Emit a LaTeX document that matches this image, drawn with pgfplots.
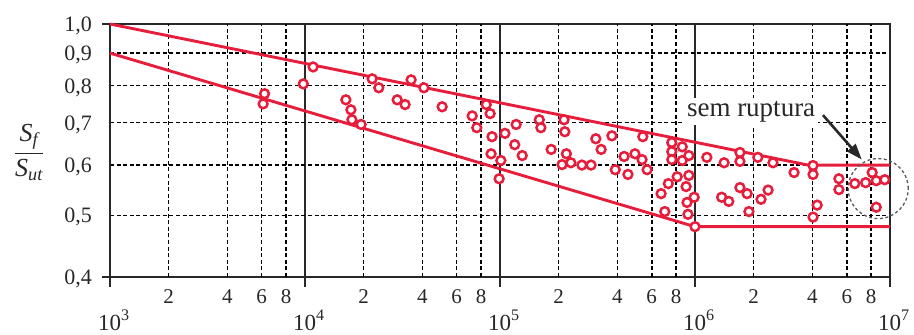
\documentclass[border=0pt]{standalone}
\usepackage{amsmath}
\usepackage{pgfplots}
\pgfplotsset{compat=1.18}
\usepackage{fontspec}
\setmainfont{Liberation Serif}
\usetikzlibrary{arrows.meta}
\definecolor{dred}{RGB}{230,30,60}
\definecolor{axgray}{RGB}{40,40,40}
\newcommand{\dec}[1]{\raisebox{-27pt}{\fontsize{23}{23}\selectfont\hspace{8pt}10\textsuperscript{#1}}}
\begin{document}
\begin{tikzpicture}
\begin{axis}[
  scale only axis, width=780pt, height=253pt,
  xmode=log, ymode=log,
  xmin=1e3, xmax=1e7, ymin=0.4, ymax=1.0,
  clip=false,
  xminorticks=false, yminorticks=false,
  axis line style={axgray, line width=2pt},
  major tick length=0pt,
  xtick={1e3,1e4,1e5,1e6,1e7},
  xticklabels={\dec{3},\dec{4},\dec{5},\dec{6},\dec{7}},
  xmajorgrids=true,
  major grid style={axgray, line width=1.6pt},
  extra x ticks={2e3,4e3,6e3,8e3,2e4,4e4,6e4,8e4,2e5,4e5,6e5,8e5,2e6,4e6,6e6,8e6},
  extra x tick labels={2,4,6,8,2,4,6,8,2,4,6,8,2,4,6,8},
  extra x tick style={xmajorgrids=true, major grid style={black, line width=1.5pt, dash pattern=on 4pt off 2.6pt}},
  xticklabel style={anchor=base, inner sep=0pt, yshift=-26pt, font=\fontsize{21}{21}\selectfont, text=axgray},
  ytick={0.4,0.5,0.6,0.7,0.8,0.9,1.0},
  yticklabels={{0,4},{0,5},{0,6},{0,7},{0,8},{0,9},{1,0}},
  ymajorgrids=true,
  y grid style={black, line width=1.5pt, dash pattern=on 4pt off 2.6pt},
  yticklabel style={anchor=base east, inner sep=0pt, xshift=-18pt, yshift=-7.5pt, font=\fontsize{22}{22}\selectfont, text=axgray},
]
\addplot[dred, line width=2.9pt] coordinates {(1e3,1.0) (3.8e6,0.6) (1e7,0.6)};
\addplot[dred, line width=2.9pt] coordinates {(1e3,0.9) (1e6,0.48) (1e7,0.48)};
\addplot[only marks, mark=*, mark size=4.4pt, mark options={draw=dred, fill=white, line width=2.5pt}] coordinates {
(6.2e3,0.777) (6.1e3,0.749) (9.8e3,0.805) (1.1e4,0.856)
(1.62e4,0.760) (1.72e4,0.733) (1.74e4,0.707) (1.94e4,0.695)
(2.21e4,0.820) (2.39e4,0.794) (2.97e4,0.760) (3.26e4,0.747)
(3.5e4,0.817) (4.07e4,0.794) (5.05e4,0.741) (7.2e4,0.717)
(7.6e4,0.687) (8.5e4,0.747) (8.9e4,0.723) (9.1e4,0.665)
(9.0e4,0.625) (1.01e5,0.610) (9.9e4,0.571) (1.06e5,0.673)
(1.21e5,0.695) (1.19e5,0.646) (1.30e5,0.621) (1.59e5,0.707)
(1.62e5,0.687) (1.83e5,0.635) (2.13e5,0.707) (2.15e5,0.677)
(2.19e5,0.625) (2.08e5,0.601) (2.31e5,0.605) (2.63e5,0.600)
(2.93e5,0.600) (3.1e5,0.660) (3.3e5,0.635) (3.75e5,0.667)
(3.9e5,0.590) (4.33e5,0.619) (4.53e5,0.580) (4.92e5,0.625)
(5.35e5,0.612) (5.68e5,0.590) (5.4e5,0.665) (6.7e5,0.541)
(7.3e5,0.561) (7.0e5,0.507) (7.6e5,0.651) (7.6e5,0.630)
(7.6e5,0.612) (8.1e5,0.575) (8.6e5,0.641) (8.6e5,0.610)
(9.3e5,0.621) (9.3e5,0.578) (9.0e5,0.555) (9.9e5,0.534)
(9.1e5,0.524) (9.2e5,0.502) (1.0e6,0.480) (1.15e6,0.617)
(1.41e6,0.605) (1.70e6,0.628) (1.70e6,0.608) (2.10e6,0.617)
(2.51e6,0.605) (3.22e6,0.584) (4.03e6,0.599) (4.03e6,0.580)
(4.23e6,0.519) (4.03e6,0.497) (1.37e6,0.534) (1.49e6,0.526)
(1.70e6,0.553) (1.85e6,0.541) (1.89e6,0.507) (2.18e6,0.530)
(2.37e6,0.548) (5.47e6,0.571) (5.47e6,0.549) (6.6e6,0.561)
(7.5e6,0.563) (8.1e6,0.584) (8.5e6,0.567) (9.4e6,0.569)
(8.5e6,0.515)
};
% outward tick marks
\draw[axgray, line width=2pt] (axis cs:1e3,1.0) -- ([xshift=-8pt]axis cs:1e3,1.0);
\draw[axgray, line width=2pt] (axis cs:1e3,0.4) -- ([xshift=-8pt]axis cs:1e3,0.4);
\draw[axgray, line width=2pt] (axis cs:1e3,0.4) -- ([yshift=-10pt]axis cs:1e3,0.4);
\draw[axgray, line width=2pt] (axis cs:1e4,0.4) -- ([yshift=-10pt]axis cs:1e4,0.4);
\draw[axgray, line width=2pt] (axis cs:1e5,0.4) -- ([yshift=-10pt]axis cs:1e5,0.4);
\draw[axgray, line width=2pt] (axis cs:1e6,0.4) -- ([yshift=-10pt]axis cs:1e6,0.4);
\draw[axgray, line width=2pt] (axis cs:1e7,0.4) -- ([yshift=-10pt]axis cs:1e7,0.4);
% annotation
\draw[black!65, line width=1.3pt, dash pattern=on 3pt off 2.5pt] (axis cs:8.7e6,0.551) circle[radius=30pt];
\node[anchor=base, fill=white, inner sep=3pt, font=\fontsize{27}{27}\selectfont, text=axgray] at (axis cs:1.94e6,0.715) {sem ruptura};
\draw[axgray, line width=2.6pt, -{Triangle[length=16pt, width=11pt]}] (axis cs:4.53e6,0.719) -- (axis cs:7.17e6,0.612);
\node[font=\fontsize{26}{26}\selectfont, text=axgray] at (rel axis cs:0,0.5) [xshift=-81pt, yshift=-2pt] {$\displaystyle\frac{\textit{S}_{\textit{f}}}{\textit{S}_{\textit{ut}}}$};
\end{axis}
\path ([xshift=-110pt,yshift=-58pt]current axis.south west) rectangle ([xshift=24pt,yshift=24pt]current axis.north east);
\end{tikzpicture}
\end{document}
